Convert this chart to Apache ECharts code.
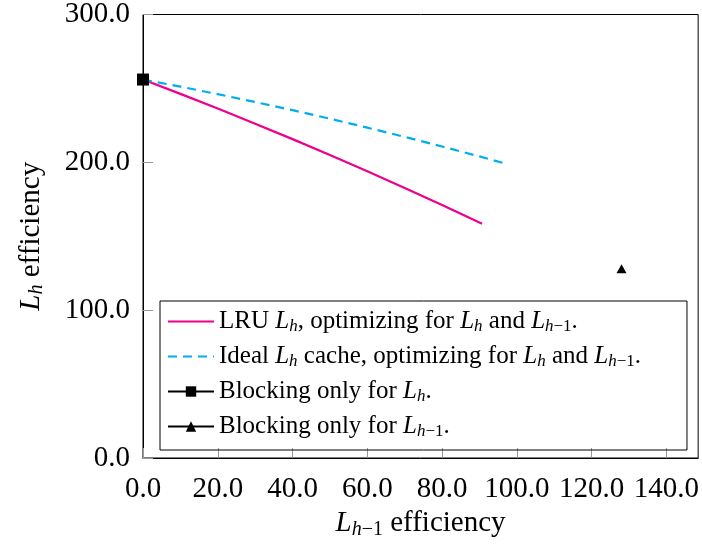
<!DOCTYPE html>
<html>
<head>
<meta charset="utf-8">
<script src="https://cdn.jsdelivr.net/npm/echarts@6/dist/echarts.min.js"></script>
<style>
  html, body { margin: 0; padding: 0; background: #fff; }
  #main { width: 702px; height: 546px; }
</style>
</head>
<body>
<div id="main"></div>
<script>
// 数据
var lruX = [0, 10, 20, 30, 40, 50, 60, 70, 80, 90.7];
var lruY = [256, 246.3, 236.4, 226.1, 215.7, 204.9, 193.9, 182.7, 171.1, 158.5];
var idealX = [0, 10, 20, 30, 40, 50, 60, 70, 80, 90, 96.5];
var idealY = [256, 251.2, 246.1, 240.8, 235.3, 229.5, 223.5, 217.2, 210.7, 204, 199.5];
var blockLh = [[0, 256]];
var blockLh1 = [[128, 128]];
var xTicks = [0, 20, 40, 60, 80, 100, 120, 140];
var yTicks = [0, 100, 200, 300];

var legendText = {
    lru: 'LRU {i|L}{s|h}, optimizing for {i|L}{s|h} and {i|L}{s|h}{n|−1}.',
    ideal: 'Ideal {i|L}{s|h} cache, optimizing for {i|L}{s|h} and {i|L}{s|h}{n|−1}.',
    blockLh: 'Blocking only for {i|L}{s|h}.',
    blockLh1: 'Blocking only for {i|L}{s|h}{n|−1}.'
};

function pairs(xs, ys) {
    var out = [];
    for (var i = 0; i < xs.length; i++) out.push([xs[i], ys[i]]);
    return out;
}

var serif = 'Liberation Serif';
var bigRich = {
    i: {fontFamily: serif, fontStyle: 'italic', fontSize: 29, lineHeight: 32, verticalAlign: 'middle', color: '#000'},
    s: {fontFamily: serif, fontStyle: 'italic', fontSize: 20, lineHeight: 12, verticalAlign: 'bottom', color: '#000'},
    n: {fontFamily: serif, fontSize: 20, lineHeight: 12, verticalAlign: 'bottom', color: '#000'},
    t: {fontFamily: serif, fontSize: 29, lineHeight: 32, color: '#000'}
};
var legRich = {
    i: {fontFamily: serif, fontStyle: 'italic', fontSize: 25, lineHeight: 27, color: '#000'},
    s: {fontFamily: serif, fontStyle: 'italic', fontSize: 17, lineHeight: 9, verticalAlign: 'bottom', color: '#000'},
    n: {fontFamily: serif, fontSize: 17, lineHeight: 9, verticalAlign: 'bottom', color: '#000'}
};
// 只画线, 不画圆点
var noDot = {color: 'rgba(0,0,0,0)', borderWidth: 0, opacity: 0};

var myChart = echarts.init(document.getElementById('main'));
myChart.setOption({
    animation: false,
    backgroundColor: '#fff',
    grid: {
        left: 143, right: 2, top: 11, bottom: 88,
        show: true, borderColor: '#000', borderWidth: 1
    },
    legend: {
        orient: 'vertical',
        left: 160, top: 301,
        data: [
            {name: 'lru', itemStyle: noDot},
            {name: 'ideal', itemStyle: noDot},
            {name: 'blockLh'},
            {name: 'blockLh1'}
        ],
        itemWidth: 46, itemHeight: 13, itemGap: 9,
        padding: [8, 46, 10, 7],
        borderColor: '#000', borderWidth: 1,
        formatter: function (name) { return legendText[name]; },
        textStyle: {fontFamily: serif, fontSize: 25, color: '#000', rich: legRich}
    },
    xAxis: {
        type: 'value', min: 0, max: 148.5,
        name: '{i|L}{s|h}{n|−1}{t| efficiency}',
        nameLocation: 'middle', nameGap: 42,
        nameTextStyle: {rich: bigRich},
        axisLine: {lineStyle: {color: '#000', width: 1}},
        axisTick: {inside: true, length: 10, lineStyle: {color: '#999'}, customValues: xTicks},
        axisLabel: {
            customValues: xTicks, margin: 17,
            fontFamily: serif, fontSize: 29, color: '#000',
            formatter: function (v) { return v.toFixed(1); }
        },
        splitLine: {show: false}
    },
    yAxis: {
        type: 'value', min: 0, max: 300,
        name: '{i|L}{s|h}{t| efficiency}',
        nameLocation: 'middle', nameGap: 96, nameRotate: 90,
        nameTextStyle: {rich: bigRich},
        axisLine: {show: true, lineStyle: {color: '#000', width: 1}},
        axisTick: {show: true, inside: true, length: 10, lineStyle: {color: '#999'}, customValues: yTicks},
        axisLabel: {
            customValues: yTicks, margin: 13,
            fontFamily: serif, fontSize: 29, color: '#000',
            formatter: function (v) { return v.toFixed(1); }
        },
        splitLine: {show: false}
    },
    series: [
        {
            name: 'lru', type: 'line', data: pairs(lruX, lruY),
            symbol: 'none', showSymbol: false,
            lineStyle: {color: '#ec008c', width: 2.2},
            itemStyle: {color: '#ec008c'}
        },
        {
            name: 'ideal', type: 'line', data: pairs(idealX, idealY),
            symbol: 'none', showSymbol: false,
            lineStyle: {color: '#00aeef', width: 2.2, type: [9, 6]},
            itemStyle: {color: '#00aeef'}
        },
        {
            name: 'blockLh', type: 'line', data: blockLh,
            symbol: 'rect', symbolSize: 12,
            lineStyle: {color: '#000', width: 1},
            itemStyle: {color: '#000'}
        },
        {
            name: 'blockLh1', type: 'line', data: blockLh1,
            symbol: 'triangle', symbolSize: [10, 9],
            lineStyle: {color: '#000', width: 1},
            itemStyle: {color: '#000'}
        }
    ]
});
</script>
</body>
</html>
